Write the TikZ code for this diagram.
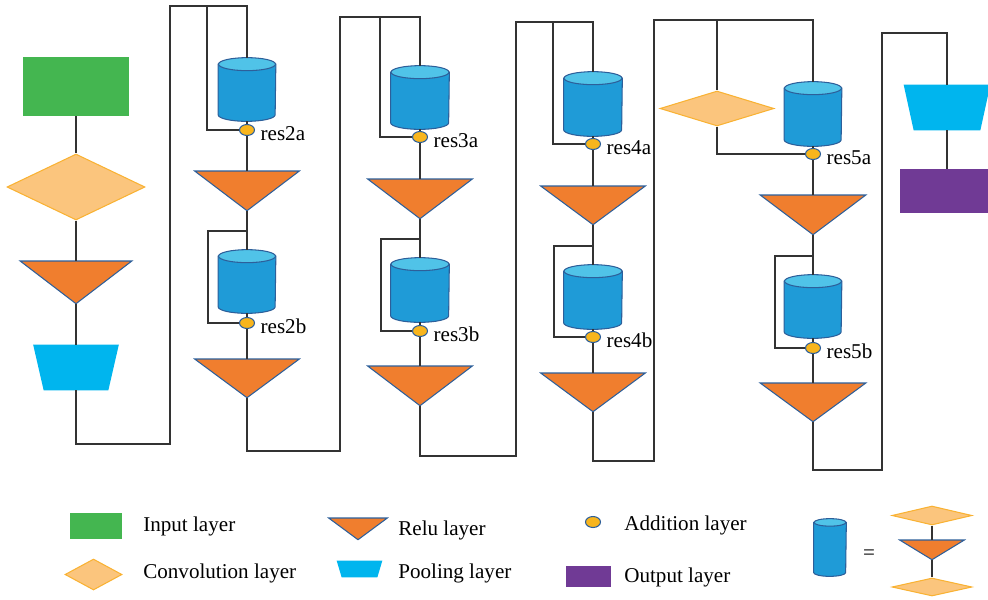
\documentclass[tikz,border=0pt]{standalone}
\usepackage{xcolor}
\usepackage{fontspec}
\setmainfont{Liberation Serif}
\usepackage{tikz}
\usetikzlibrary{shapes.geometric}

\definecolor{inputgreen}{HTML}{44B650}
\definecolor{convfill}{HTML}{FBC57D}
\definecolor{convline}{HTML}{F9B233}
\definecolor{relufill}{HTML}{F07E2E}
\definecolor{shapeblue}{HTML}{2D5F9A}
\definecolor{poolcyan}{HTML}{00B5EE}
\definecolor{cylbody}{HTML}{1F9BD7}
\definecolor{cyltop}{HTML}{50C3E8}
\definecolor{addfill}{HTML}{F8B51D}
\definecolor{outpurple}{HTML}{703A95}
\definecolor{wiregray}{HTML}{333333}

\begin{document}
\begin{tikzpicture}[x=0.02cm, y=-0.02cm,
  every node/.style={font=\fontsize{12}{14}\selectfont},
  inputbox/.style 2 args={rectangle, fill=inputgreen, inner sep=0pt,
    minimum width=#1, minimum height=#2},
  outbox/.style 2 args={rectangle, fill=outpurple, inner sep=0pt,
    minimum width=#1, minimum height=#2},
  convbox/.style 2 args={diamond, fill=convfill, draw=convline, line width=0.6pt,
    inner sep=0pt, minimum width=#1, minimum height=#2},
  % apex-down triangle drawn over an empty box
  relubox/.style 2 args={rectangle, inner sep=0pt, minimum width=#1, minimum height=#2,
    append after command={\pgfextra{\filldraw[fill=relufill, draw=shapeblue,
      line width=0.6pt, line join=miter]
      (\tikzlastnode.north west) -- (\tikzlastnode.north east)
      -- (\tikzlastnode.south) -- cycle;}}},
  % wide-top trapezium, #3 = inset of the lower corners
  poolbox/.style n args={3}{rectangle, inner sep=0pt, minimum width=#1, minimum height=#2,
    append after command={\pgfextra{\fill[poolcyan]
      (\tikzlastnode.north west) -- (\tikzlastnode.north east)
      -- ([xshift=-#3]\tikzlastnode.south east)
      -- ([xshift=#3]\tikzlastnode.south west) -- cycle;}}},
  % upright cylinder, #3 = half height of the end ellipses
  resblock/.style n args={3}{rectangle, inner sep=0pt, minimum width=#1, minimum height=#2,
    append after command={\pgfextra{
      \filldraw[fill=cylbody, draw=shapeblue, line width=0.6pt]
        ([yshift=-#3]\tikzlastnode.north west) -- ([yshift=#3]\tikzlastnode.south west)
        arc[start angle=180, end angle=360, x radius=0.5*#1, y radius=#3]
        -- ([yshift=-#3]\tikzlastnode.north east) -- cycle;
      \filldraw[fill=cyltop, draw=shapeblue, line width=0.6pt]
        ([yshift=-#3]\tikzlastnode.north) ellipse[x radius=0.5*#1, y radius=#3];}}},
  addnode/.style={ellipse, fill=addfill, draw=shapeblue, line width=0.6pt,
    inner sep=0pt, minimum width=0.3cm, minimum height=0.22cm},
  reslabel/.style={anchor=west, inner sep=1pt, xshift=2pt, yshift=-2pt},
  legendtext/.style={anchor=west, inner sep=0pt},
  wire/.style={draw=wiregray, line width=0.75pt}]
  \useasboundingbox (0,0) rectangle (988,599);

  % stem: input, conv, relu, pool
  \node[inputbox={2.12cm}{1.18cm}] (in) at (76,86.5) {};
  \node[convbox={2.76cm}{1.32cm}] (conv1) at (76,187) {};
  \node[relubox={2.22cm}{0.84cm}, anchor=north] (relu1) at (76,261) {};
  \node[poolbox={1.7cm}{0.9cm}{0.21cm}] (pool1) at (76,367.5) {};
  \draw[wire] (in.south) -- (conv1.north);
  \draw[wire] (conv1.south) -- (relu1.north);
  \draw[wire] (relu1.south) -- (pool1.north);

  % stage 2
  \node[resblock={1.14cm}{1.26cm}{0.13cm}] (cyl2a) at (247,89.5) {};
  \node[addnode] (add2a) at (247,130) {};
  \node[reslabel] at (add2a.east) {res2a};
  \node[relubox={2.08cm}{0.78cm}, anchor=north] (relu2a) at (247,171) {};
  \node[resblock={1.14cm}{1.26cm}{0.13cm}] (cyl2b) at (247,281.5) {};
  \node[addnode] (add2b) at (247,323) {};
  \node[reslabel] at (add2b.east) {res2b};
  \node[relubox={2.08cm}{0.76cm}, anchor=north] (relu2b) at (247,359) {};

  \coordinate (bot1) at (170,444);
  \coordinate (top2) at (207,6);
  \coordinate (skip2b) at (208,231);
  \draw[wire] (pool1.south) |- (bot1) |- (top2) -| (cyl2a.north);
  \draw[wire] (top2) |- (add2a.west);
  \draw[wire] (cyl2a.south) -- (add2a.north);
  \draw[wire] (add2a.south) -- (relu2a.north);
  \draw[wire] (relu2a.south) -- (cyl2b.north);
  \draw[wire] (relu2a.south |- skip2b) -- (skip2b) |- (add2b.west);
  \draw[wire] (cyl2b.south) -- (add2b.north);
  \draw[wire] (add2b.south) -- (relu2b.north);

  % stage 3
  \node[resblock={1.16cm}{1.26cm}{0.13cm}] (cyl3a) at (420,97.5) {};
  \node[addnode] (add3a) at (420,137) {};
  \node[reslabel] at (add3a.east) {res3a};
  \node[relubox={2.08cm}{0.78cm}, anchor=north] (relu3a) at (420,179) {};
  \node[resblock={1.16cm}{1.28cm}{0.13cm}] (cyl3b) at (420,290) {};
  \node[addnode] (add3b) at (420,331) {};
  \node[reslabel] at (add3b.east) {res3b};
  \node[relubox={2.08cm}{0.78cm}, anchor=north] (relu3b) at (420,366) {};

  \coordinate (bot2) at (340,451);
  \coordinate (top3) at (380,17);
  \coordinate (skip3b) at (381,239);
  \draw[wire] (relu2b.south) |- (bot2) |- (top3) -| (cyl3a.north);
  \draw[wire] (top3) |- (add3a.west);
  \draw[wire] (cyl3a.south) -- (add3a.north);
  \draw[wire] (add3a.south) -- (relu3a.north);
  \draw[wire] (relu3a.south) -- (cyl3b.north);
  \draw[wire] (relu3a.south |- skip3b) -- (skip3b) |- (add3b.west);
  \draw[wire] (cyl3b.south) -- (add3b.north);
  \draw[wire] (add3b.south) -- (relu3b.north);

  % stage 4
  \node[resblock={1.16cm}{1.28cm}{0.13cm}] (cyl4a) at (593,104) {};
  \node[addnode] (add4a) at (593,144) {};
  \node[reslabel] at (add4a.east) {res4a};
  \node[relubox={2.08cm}{0.76cm}, anchor=north] (relu4a) at (593,186) {};
  \node[resblock={1.16cm}{1.28cm}{0.13cm}] (cyl4b) at (593,297) {};
  \node[addnode] (add4b) at (593,337) {};
  \node[reslabel] at (add4b.east) {res4b};
  \node[relubox={2.08cm}{0.76cm}, anchor=north] (relu4b) at (593,373) {};

  \coordinate (bot3) at (516,456);
  \coordinate (top4) at (553,22);
  \coordinate (skip4b) at (554,246);
  \draw[wire] (relu3b.south) |- (bot3) |- (top4) -| (cyl4a.north);
  \draw[wire] (top4) |- (add4a.west);
  \draw[wire] (cyl4a.south) -- (add4a.north);
  \draw[wire] (add4a.south) -- (relu4a.north);
  \draw[wire] (relu4a.south) -- (cyl4b.north);
  \draw[wire] (relu4a.south |- skip4b) -- (skip4b) |- (add4b.west);
  \draw[wire] (cyl4b.south) -- (add4b.north);
  \draw[wire] (add4b.south) -- (relu4b.north);

  % stage 5, projection shortcut through a conv
  \node[convbox={2.28cm}{0.70cm}] (conv5) at (717,108.5) {};
  \node[resblock={1.14cm}{1.28cm}{0.13cm}] (cyl5a) at (813,114) {};
  \node[addnode] (add5a) at (813,154) {};
  \node[reslabel] at (add5a.east) {res5a};
  \node[relubox={2.1cm}{0.78cm}, anchor=north] (relu5a) at (813,195) {};
  \node[resblock={1.14cm}{1.26cm}{0.13cm}] (cyl5b) at (813,306.5) {};
  \node[addnode] (add5b) at (813,348) {};
  \node[reslabel] at (add5b.east) {res5b};
  \node[relubox={2.1cm}{0.76cm}, anchor=north] (relu5b) at (813,383) {};

  \coordinate (bot4) at (654,461);
  \coordinate (top5) at (717,20);
  \coordinate (skip5b) at (775,256);
  \draw[wire] (relu4b.south) |- (bot4) |- (top5) -| (cyl5a.north);
  \draw[wire] (top5) -- (conv5.north);
  \draw[wire] (conv5.south) |- (add5a.west);
  \draw[wire] (cyl5a.south) -- (add5a.north);
  \draw[wire] (add5a.south) -- (relu5a.north);
  \draw[wire] (relu5a.south) -- (cyl5b.north);
  \draw[wire] (relu5a.south |- skip5b) -- (skip5b) |- (add5b.west);
  \draw[wire] (cyl5b.south) -- (add5b.north);
  \draw[wire] (add5b.south) -- (relu5b.north);

  % head: pool, output
  \node[poolbox={1.72cm}{0.9cm}{0.2cm}] (pool5) at (947,107.5) {};
  \node[outbox={1.88cm}{0.88cm}] (out) at (947,191) {};
  \coordinate (bot5) at (882,470);
  \coordinate (top6) at (947,33);
  \draw[wire] (relu5b.south) |- (bot5) |- (top6) -- (pool5.north);
  \draw[wire] (pool5.south) -- (out.north);

  % legend
  \node[inputbox={1.04cm}{0.52cm}] (lgin) at (96,526) {};
  \node[legendtext] at (143,526) {Input layer};
  \node[convbox={1.14cm}{0.62cm}] (lgconv) at (93.5,574.5) {};
  \node[legendtext] at (143,573) {Convolution layer};
  \node[relubox={1.16cm}{0.42cm}, anchor=north] (lgrelu) at (358,518) {};
  \node[legendtext] at (398,530) {Relu layer};
  \node[poolbox={0.9cm}{0.32cm}{0.1cm}] (lgpool) at (359.5,569) {};
  \node[legendtext] at (398,573) {Pooling layer};
  \node[addnode] (lgadd) at (593,522) {};
  \node[legendtext] at (624,525) {Addition layer};
  \node[outbox={0.9cm}{0.42cm}] (lgout) at (588,576.5) {};
  \node[legendtext] at (624,577) {Output layer};

  \node[resblock={0.64cm}{1.14cm}{0.075cm}] (lgcyl) at (830,547.5) {};
  \node (eq) at (869,555) {=};
  \node[convbox={1.6cm}{0.38cm}] (lgconva) at (932,515.5) {};
  \node[relubox={1.28cm}{0.38cm}, anchor=north] (lgrelub) at (932,540) {};
  \node[convbox={1.6cm}{0.36cm}] (lgconvb) at (932,587) {};
  \draw[wire] (lgconva.south) -- (lgrelub.north);
  \draw[wire] (lgrelub.south) -- (lgconvb.north);
\end{tikzpicture}
\end{document}
